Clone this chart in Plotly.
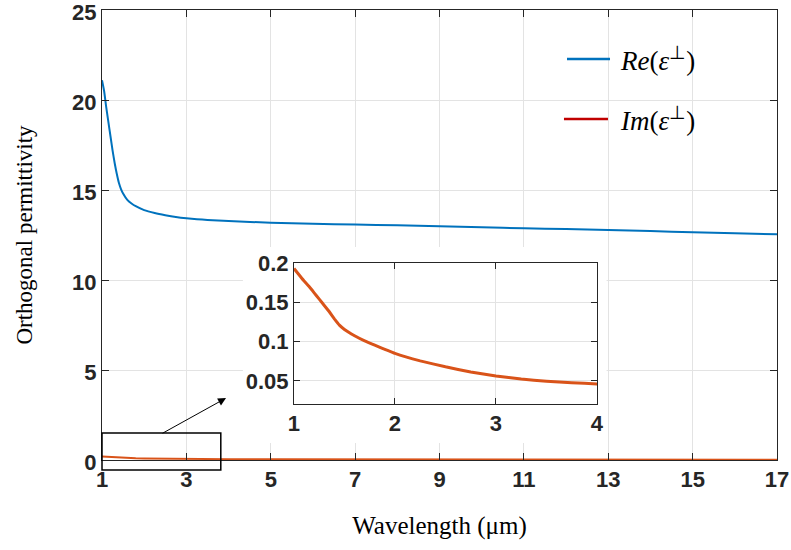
import plotly.graph_objects as go

wavelength = [1, 1.05, 1.1, 1.15, 1.2, 1.25, 1.3, 1.35, 1.4, 1.45, 1.5, 1.6, 1.7, 1.8, 2,
              2.25, 2.5, 2.75, 3, 3.25, 3.5, 3.75, 4, 5, 6, 7, 8, 9, 10, 11, 12, 13, 14, 15, 16, 17]
re_eps = [21.1, 20.5, 19.6, 18.8, 18.0, 17.2, 16.5, 15.9, 15.4, 15.05, 14.8, 14.45, 14.25, 14.1, 13.88,
          13.72, 13.6, 13.5, 13.43, 13.38, 13.34, 13.31, 13.28, 13.18, 13.12, 13.08, 13.04, 12.99, 12.93,
          12.87, 12.83, 12.78, 12.72, 12.65, 12.6, 12.54]
im_eps = [0.193, 0.185, 0.177, 0.17, 0.162, 0.154, 0.146, 0.138, 0.129, 0.121, 0.1155, 0.1075, 0.101,
          0.0955, 0.085, 0.0755, 0.068, 0.0615, 0.0562, 0.0525, 0.0497, 0.0477, 0.0463, 0.041, 0.037,
          0.034, 0.031, 0.029, 0.027, 0.025, 0.024, 0.022, 0.021, 0.02, 0.019, 0.018]

main_xticks = [1, 3, 5, 7, 9, 11, 13, 15, 17]
main_yticks = [0, 5, 10, 15, 20, 25]
inset_xticks = [1, 2, 3, 4]
inset_yticks = [0.05, 0.1, 0.15, 0.2]
inset_yticklabels = ["0.05", "0.1", "0.15", "0.2"]
series_names = ["<i>Re</i>(<i>ε</i><sup>⊥</sup>)", "<i>Im</i>(<i>ε</i><sup>⊥</sup>)"]

BLUE = "#0072BD"
ORANGE = "#D95319"
RED = "#C00000"
AX = "#262626"
GRID = "#E3E3E3"
SANS = "Liberation Sans, Arial, sans-serif"
SERIF = "Liberation Serif, Times New Roman, serif"
tickfont = dict(family=SANS, size=22, color=AX)


def bold(vals):
    return ["<b>%s</b>" % v for v in vals]


fig = go.Figure()
fig.add_trace(go.Scatter(x=wavelength, y=re_eps, mode="lines", name="Re",
                         line=dict(color=BLUE, width=2, shape="spline", smoothing=0.5),
                         showlegend=False))
fig.add_trace(go.Scatter(x=wavelength, y=im_eps, mode="lines", name="Im",
                         line=dict(color=ORANGE, width=2), showlegend=False))
# inset
fig.add_trace(go.Scatter(x=wavelength, y=im_eps, mode="lines", name="Im (inset)",
                         line=dict(color=ORANGE, width=3, shape="spline", smoothing=0.3),
                         xaxis="x2", yaxis="y2", showlegend=False))

axis_common = dict(ticks="inside", tickcolor=AX, showline=True, linecolor=AX, linewidth=1,
                   mirror="ticks", showgrid=True, gridcolor=GRID, gridwidth=1, zeroline=False,
                   tickfont=tickfont, automargin=False, ticklabeloverflow="allow")

fig.update_layout(
    width=791, height=550,
    margin=dict(l=102, r=14, t=10, b=90),
    paper_bgcolor="white", plot_bgcolor="white",
    xaxis=dict(range=[1, 17], tickvals=main_xticks, ticktext=bold(main_xticks), ticklen=7,
               title=dict(text="Wavelength (μm)", standoff=25,
                          font=dict(family=SERIF, size=25, color="black")),
               **axis_common),
    yaxis=dict(range=[0, 25], tickvals=main_yticks, ticktext=bold(main_yticks), ticklen=7,
               ticklabelshift=2,
               title=dict(text="Orthogonal permittivity", standoff=33,
                          font=dict(family=SERIF, size=23, color="black")),
               **axis_common),
    xaxis2=dict(domain=[0.2844, 0.7333], anchor="y2", range=[1, 4], tickvals=inset_xticks,
                ticktext=bold(inset_xticks), ticklen=6, **axis_common),
    yaxis2=dict(domain=[0.1244, 0.4378], anchor="x2", range=[0.0207, 0.2], tickvals=inset_yticks,
                ticktext=bold(inset_yticklabels), ticklen=6, **axis_common),
    showlegend=False,
)

# white backing behind the inset (covers main gridlines)
fig.add_shape(type="rect", xref="x", yref="y", x0=4.34, x1=12.96, y0=0.94, y1=11.83,
              fillcolor="white", line=dict(width=0), layer="between")
# zoom box
fig.add_shape(type="rect", xref="x domain", yref="y domain", x0=0.0, x1=0.176, y0=-0.0222, y1=0.06,
              line=dict(color="black", width=1.5), fillcolor="rgba(0,0,0,0)", layer="above")
# arrow
fig.add_annotation(x=3.94, y=3.44, ax=2.40, ay=1.44, xref="x", yref="y", axref="x", ayref="y",
                   text="", showarrow=True, arrowhead=2, arrowsize=1.6, arrowwidth=1, arrowcolor="black")

# legend (drawn manually to match line lengths)
legend_rows = [(0.6889, 0.7526, 0.8911, BLUE), (0.6844, 0.7496, 0.7578, RED)]
for (lx0, lx1, ly, col), name in zip(legend_rows, series_names):
    fig.add_shape(type="line", xref="paper", yref="paper", x0=lx0, x1=lx1, y0=ly, y1=ly,
                  line=dict(color=col, width=2.5))
    fig.add_annotation(x=0.7644, y=ly, xref="paper", yref="paper", text=name, showarrow=False,
                       xanchor="left", yanchor="middle",
                       font=dict(family=SERIF, size=27, color="black"))

fig.write_html("out.html", config={"displayModeBar": False},
               post_script="document.body.style.margin='0px';document.body.style.overflow='hidden';")
